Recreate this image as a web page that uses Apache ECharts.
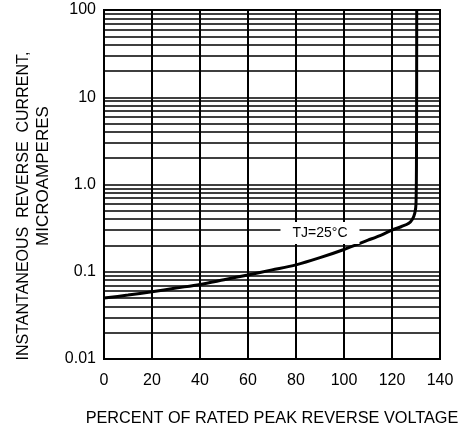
<!DOCTYPE html>
<html><head><meta charset="utf-8">
<script src="https://cdn.jsdelivr.net/npm/echarts@6/dist/echarts.min.js"></script>
<style>html,body{margin:0;padding:0;background:#fff}#c{width:470px;height:432px}</style>
</head><body><div id="c"></div>
<script>
const xTicks = [0, 20, 40, 60, 80, 100, 120, 140];
const yTickValues = [0.01, 0.1, 1, 10, 100];
const yTickLabels = ['0.01', '0.1', '1.0', '10', '100'];
const percentVoltage = [0, 10, 20, 30, 40, 50, 60, 70, 80, 90, 100, 110, 115, 120, 124, 127, 128.5, 129.5, 130, 130.2, 130.3];
const reverseCurrent = [0.05, 0.054, 0.059, 0.065, 0.0714, 0.081, 0.092, 0.105, 0.12, 0.145, 0.18, 0.23, 0.26, 0.30, 0.33, 0.36, 0.40, 0.47, 0.6, 2, 100];
const curveLabel = 'TJ=25°C';
const xTitle = 'PERCENT OF RATED PEAK REVERSE VOLTAGE';
const yTitle1 = 'INSTANTANEOUS  REVERSE  CURRENT,';
const yTitle2 = 'MICROAMPERES';

const font = 'Liberation Sans, Arial, sans-serif';
const chart = echarts.init(document.getElementById('c'), null, {renderer: 'canvas'});
chart.setOption({
  animation: false,
  grid: {left: 104, right: 30, top: 10, bottom: 67, show: true, borderColor: '#000', borderWidth: 2},
  xAxis: {
    type: 'value', min: 0, max: 140, interval: 20,
    axisLine: {show: false}, axisTick: {show: false},
    axisLabel: {color: '#000', fontFamily: font, fontSize: 16, margin: 14, formatter: v => xTicks.includes(v) ? String(v) : ''},
    splitLine: {show: true, lineStyle: {color: '#000', width: 2}},
    name: xTitle, nameLocation: 'middle', nameGap: 52,
    nameTextStyle: {color: '#000', fontFamily: font, fontSize: 16.3}
  },
  yAxis: {
    type: 'log', min: 0.01, max: 100, logBase: 10,
    axisLine: {show: false}, axisTick: {show: false},
    axisLabel: {color: '#000', fontFamily: font, fontSize: 16, margin: 8,
      formatter: v => { const i = yTickValues.findIndex(t => Math.abs(Math.log10(t) - Math.log10(v)) < 1e-6); return i >= 0 ? yTickLabels[i] : ''; }},
    splitLine: {show: true, lineStyle: {color: '#000', width: 1.5}},
    minorTick: {show: false, splitNumber: 9},
    minorSplitLine: {show: true, lineStyle: {color: '#000', width: 1.5}}
  },
  graphic: [
    {type: 'text', x: 24, y: 206, rotation: Math.PI / 2,
      style: {text: yTitle1, fill: '#000', font: '16px ' + font, align: 'center', verticalAlign: 'middle'}},
    {type: 'text', x: 43, y: 176, rotation: Math.PI / 2,
      style: {text: yTitle2, fill: '#000', font: '17px ' + font, align: 'center', verticalAlign: 'middle'}},
    {type: 'text', x: 320, y: 233, z: 100,
      style: {text: curveLabel, fill: '#000', font: '14px ' + font, align: 'center', verticalAlign: 'middle',
        backgroundColor: '#fff', padding: [4, 12, 4, 12]}}
  ],
  series: [{
    type: 'line', showSymbol: false, smooth: 0.3,
    data: percentVoltage.map((x, i) => [x, reverseCurrent[i]]),
    lineStyle: {color: '#000', width: 3}
  }]
});
</script></body></html>
